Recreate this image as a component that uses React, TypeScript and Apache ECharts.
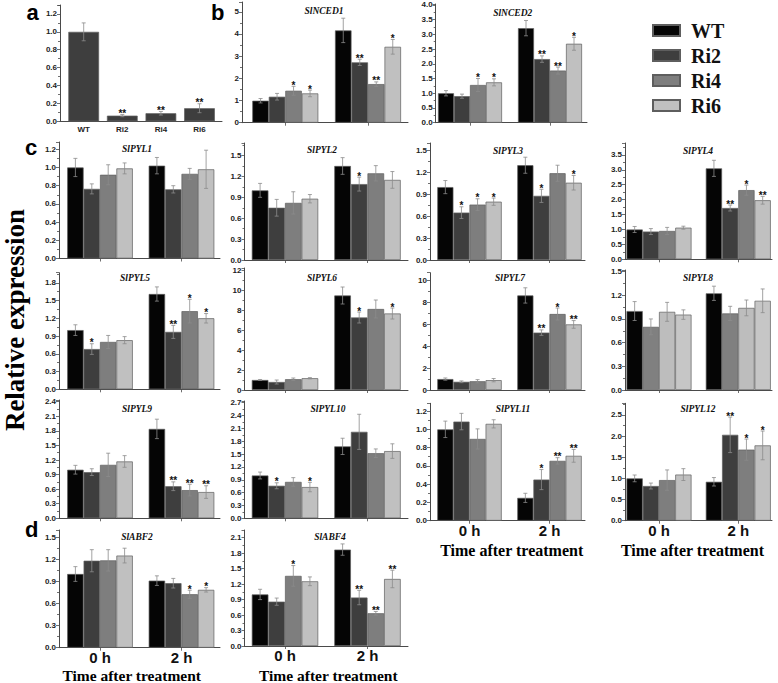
import React, { useEffect, useRef } from "react";
import * as echarts from "echarts";

// ---------------- data ----------------
const groupLabels = ["0 h", "2 h"];
const lineNames = ["WT", "Ri2", "Ri4", "Ri6"];

// panel a
const aCategories = ["WT", "Ri2", "Ri4", "Ri6"];
const aMean = [1.0, 0.063, 0.09, 0.146];
const aErr = [0.1, 0.012, 0.02, 0.05];
const aSig = ["", "**", "**", "**"];

// panel b
const nced1Mean = [[0.99, 1.17, 1.44, 1.32], [4.16, 2.72, 1.74, 3.42]];
const nced1Err = [[0.1, 0.15, 0.2, 0.15], [0.55, 0.14, 0.1, 0.33]];
const nced1Sig = [["", "", "*", "*"], ["", "**", "**", "*"]];

const nced2Mean = [[1.0, 0.9, 1.28, 1.37], [3.21, 2.16, 1.77, 2.68]];
const nced2Err = [[0.09, 0.07, 0.22, 0.12], [0.26, 0.11, 0.12, 0.22]];
const nced2Sig = [["", "", "*", "*"], ["", "**", "**", "*"]];

// panel c
const pyl1Mean = [[1.0, 0.765, 0.92, 0.99], [1.02, 0.76, 0.93, 0.98]];
const pyl1Err = [[0.1, 0.055, 0.11, 0.06], [0.09, 0.04, 0.06, 0.21]];
const pyl1Sig = [["", "", "", ""], ["", "", "", ""]];

const pyl2Mean = [[1.0, 0.75, 0.82, 0.88], [1.35, 1.09, 1.245, 1.15]];
const pyl2Err = [[0.1, 0.12, 0.16, 0.06], [0.12, 0.1, 0.11, 0.12]];
const pyl2Sig = [["", "", "", ""], ["", "*", "", ""]];

const pyl3Mean = [[1.0, 0.65, 0.76, 0.8], [1.3, 0.88, 1.19, 1.06]];
const pyl3Err = [[0.09, 0.08, 0.08, 0.05], [0.11, 0.09, 0.11, 0.1]];
const pyl3Sig = [["", "*", "*", "*"], ["", "*", "", "*"]];

const pyl4Mean = [[1.0, 0.93, 0.95, 1.06], [3.05, 1.72, 2.32, 1.98]];
const pyl4Err = [[0.1, 0.1, 0.12, 0.05], [0.27, 0.1, 0.17, 0.13]];
const pyl4Sig = [["", "", "", ""], ["", "**", "*", "**"]];

const pyl5Mean = [[1.0, 0.68, 0.8, 0.83], [1.61, 0.97, 1.32, 1.2]];
const pyl5Err = [[0.09, 0.09, 0.11, 0.06], [0.12, 0.11, 0.2, 0.08]];
const pyl5Sig = [["", "*", "", ""], ["", "**", "*", "*"]];

const pyl6Mean = [[1.0, 0.8, 1.08, 1.18], [9.45, 7.25, 8.1, 7.65]];
const pyl6Err = [[0.05, 0.2, 0.12, 0.06], [0.85, 0.55, 0.9, 0.55]];
const pyl6Sig = [["", "", "", ""], ["", "*", "", "*"]];

const pyl7Mean = [[1.0, 0.75, 0.8, 0.9], [8.65, 5.25, 6.95, 6.0]];
const pyl7Err = [[0.1, 0.08, 0.15, 0.15], [0.7, 0.25, 0.55, 0.35]];
const pyl7Sig = [["", "", "", ""], ["", "**", "*", "**"]];

const pyl8Mean = [[1.0, 0.8, 0.99, 0.955], [1.225, 0.97, 1.04, 1.13]];
const pyl8Err = [[0.12, 0.1, 0.12, 0.06], [0.09, 0.09, 0.1, 0.15]];
const pyl8Sig = [["", "", "", ""], ["", "", "", ""]];

const pyl9Mean = [[1.0, 0.95, 1.1, 1.17], [1.84, 0.66, 0.58, 0.54]];
const pyl9Err = [[0.09, 0.07, 0.24, 0.12], [0.2, 0.09, 0.12, 0.13]];
const pyl9Sig = [["", "", "", ""], ["", "**", "**", "**"]];

const pyl10Mean = [[1.0, 0.76, 0.85, 0.73], [1.68, 2.02, 1.52, 1.57]];
const pyl10Err = [[0.08, 0.07, 0.1, 0.11], [0.19, 0.41, 0.1, 0.17]];
const pyl10Sig = [["", "*", "", "*"], ["", "", "", ""]];

const pyl11Mean = [[1.0, 1.085, 0.895, 1.06], [0.25, 0.45, 0.655, 0.71]];
const pyl11Err = [[0.09, 0.09, 0.11, 0.045], [0.05, 0.11, 0.035, 0.07]];
const pyl11Sig = [["", "", "", ""], ["", "*", "**", "**"]];

const pyl12Mean = [[1.0, 0.82, 0.96, 1.09], [0.92, 2.03, 1.68, 1.78]];
const pyl12Err = [[0.08, 0.07, 0.24, 0.14], [0.1, 0.42, 0.25, 0.34]];
const pyl12Sig = [["", "", "", ""], ["", "**", "*", "*"]];

// panel d
const abf2Mean = [[1.0, 1.18, 1.185, 1.25], [0.91, 0.875, 0.725, 0.785]];
const abf2Err = [[0.1, 0.15, 0.145, 0.1], [0.065, 0.065, 0.055, 0.03]];
const abf2Sig = [["", "", "", ""], ["", "", "*", "*"]];

const abf4Mean = [[1.0, 0.86, 1.36, 1.255], [1.87, 0.94, 0.635, 1.3]];
const abf4Err = [[0.1, 0.07, 0.2, 0.085], [0.11, 0.14, 0.035, 0.17]];
const abf4Sig = [["", "", "*", ""], ["", "**", "**", "**"]];

// ---------------- styles / layout ----------------
const COLORS = ["#050505", "#3e3e3e", "#7e7e7e", "#c0c0c0"];
const PYL8_COLORS = ["#050505", "#808080", "#bdbdbd", "#c6c6c6"];
const A_COLOR = "#3e3e3e";
const BORDER = "#5e5e5e";
const AXIS_COLOR = "#4a4a4a";
const ERR_COLOR = "#8c8c8c";
const SANS = "Liberation Sans";
const SERIF = "Liberation Serif";

const COL: Record<string, { axisX: number; c0: number; c1: number; xEnd: number; barW: number }> = {
  c1: { axisX: 59, c0: 100, c1: 181.5, xEnd: 220, barW: 16.4 },
  c2: { axisX: 244.5, c0: 285, c1: 367.5, xEnd: 408, barW: 16.6 },
  c2n: { axisX: 242, c0: 285.3, c1: 368, xEnd: 408, barW: 16.5 },
  c3: { axisX: 430, c0: 469.5, c1: 549.5, xEnd: 585, barW: 16.1 },
  c3n: { axisX: 435.7, c0: 470, c1: 550, xEnd: 587, barW: 16 },
  c4: { axisX: 625, c0: 659, c1: 738.3, xEnd: 772, barW: 16.25 },
};

type Panel = {
  title: string; mean: number[][]; err: number[][]; sig: string[][];
  col: string; top: number; bottom: number; max: number; interval: number;
  tx: number; ty: number; xLabels?: boolean; colors?: string[];
};

const PANELS: Panel[] = [
  { title: "SlNCED1", mean: nced1Mean, err: nced1Err, sig: nced1Sig, col: "c2n", top: 2, bottom: 122.7, max: 5.44, interval: 1, tx: 324, ty: 11 },
  { title: "SlNCED2", mean: nced2Mean, err: nced2Err, sig: nced2Sig, col: "c3n", top: 4, bottom: 122.7, max: 4.03, interval: 0.5, tx: 512.7, ty: 12.7 },
  { title: "SlPYL1", mean: pyl1Mean, err: pyl1Err, sig: pyl1Sig, col: "c1", top: 142, bottom: 258.5, max: 1.28, interval: 0.2, tx: 137, ty: 148.5 },
  { title: "SlPYL2", mean: pyl2Mean, err: pyl2Err, sig: pyl2Sig, col: "c2", top: 143, bottom: 260, max: 1.68, interval: 0.3, tx: 322, ty: 150 },
  { title: "SlPYL3", mean: pyl3Mean, err: pyl3Err, sig: pyl3Sig, col: "c3", top: 143, bottom: 260, max: 1.605, interval: 0.3, tx: 508, ty: 150.5 },
  { title: "SlPYL4", mean: pyl4Mean, err: pyl4Err, sig: pyl4Sig, col: "c4", top: 143, bottom: 259.3, max: 3.9, interval: 0.5, tx: 698, ty: 150.5 },
  { title: "SlPYL5", mean: pyl5Mean, err: pyl5Err, sig: pyl5Sig, col: "c1", top: 272.7, bottom: 389.3, max: 1.97, interval: 0.3, tx: 135, ty: 278 },
  { title: "SlPYL6", mean: pyl6Mean, err: pyl6Err, sig: pyl6Sig, col: "c2", top: 268, bottom: 390, max: 12.2, interval: 2, tx: 322, ty: 278 },
  { title: "SlPYL7", mean: pyl7Mean, err: pyl7Err, sig: pyl7Sig, col: "c3", top: 272.7, bottom: 390, max: 10.73, interval: 2, tx: 510, ty: 278 },
  { title: "SlPYL8", mean: pyl8Mean, err: pyl8Err, sig: pyl8Sig, col: "c4", top: 270, bottom: 390, max: 1.52, interval: 0.3, tx: 698, ty: 278, colors: PYL8_COLORS },
  { title: "SlPYL9", mean: pyl9Mean, err: pyl9Err, sig: pyl9Sig, col: "c1", top: 400, bottom: 518.3, max: 2.435, interval: 0.3, tx: 137, ty: 409 },
  { title: "SlPYL10", mean: pyl10Mean, err: pyl10Err, sig: pyl10Sig, col: "c2", top: 401, bottom: 518.3, max: 2.74, interval: 0.3, tx: 328, ty: 409 },
  { title: "SlPYL11", mean: pyl11Mean, err: pyl11Err, sig: pyl11Sig, col: "c3", top: 403.3, bottom: 520.7, max: 1.285, interval: 0.2, tx: 513, ty: 409, xLabels: true },
  { title: "SlPYL12", mean: pyl12Mean, err: pyl12Err, sig: pyl12Sig, col: "c4", top: 403.3, bottom: 520.7, max: 2.775, interval: 0.5, tx: 698, ty: 409, xLabels: true },
  { title: "SlABF2", mean: abf2Mean, err: abf2Err, sig: abf2Sig, col: "c1", top: 530, bottom: 647.7, max: 1.597, interval: 0.3, tx: 137, ty: 537, xLabels: true },
  { title: "SlABF4", mean: abf4Mean, err: abf4Err, sig: abf4Sig, col: "c2", top: 530, bottom: 646, max: 2.25, interval: 0.3, tx: 330, ty: 537, xLabels: true },
];

const A_LAYOUT = { axisX: 60, c0: 83.7, c1: 122.3, xEnd: 222, barW: 30.7, top: 5, bottom: 121.3, max: 1.3, interval: 0.2 };

function tickFormatter(interval: number) {
  const d = interval >= 1 ? 0 : 1;
  return (v: number) => {
    const r = v / interval;
    return Math.abs(r - Math.round(r)) < 1e-6 ? v.toFixed(d) : "";
  };
}

const lineStyle = { color: AXIS_COLOR, width: 1 };

function yAxisOf(k: number, max: number, interval: number) {
  return {
    type: "value", gridIndex: k, min: 0, max, interval,
    axisLine: { show: true, onZero: false, lineStyle },
    axisTick: { show: true, length: 3, lineStyle: { color: AXIS_COLOR, width: 0.8 } },
    minorTick: { show: true, splitNumber: 2, length: 2, lineStyle: { color: AXIS_COLOR, width: 0.8 } },
    splitLine: { show: false },
    minorSplitLine: { show: false },
    axisLabel: { formatter: tickFormatter(interval), fontSize: 8, fontWeight: "bold", fontFamily: SANS, color: "#222", margin: 3 },
  };
}

function errorSeries(k: number, items: number[][], sigs: string[], barW: number) {
  return {
    type: "custom", xAxisIndex: k, yAxisIndex: k, z: 5, silent: true,
    encode: { x: 0, y: 1 },
    data: items,
    renderItem: (params: any, api: any) => {
      const x = api.value(0), mean = api.value(2), slot = api.value(3), err = api.value(4), n = api.value(5);
      const top = api.coord([x, mean + err]);
      const bot = api.coord([x, Math.max(0, mean - err)]);
      const cx = top[0] + (slot - (n - 1) / 2) * barW;
      const ls = { stroke: ERR_COLOR, lineWidth: 0.8 };
      const ch: any[] = [
        { type: "line", shape: { x1: cx, y1: top[1], x2: cx, y2: bot[1] }, style: ls },
        { type: "line", shape: { x1: cx - 2, y1: top[1], x2: cx + 2, y2: top[1] }, style: ls },
        { type: "line", shape: { x1: cx - 2, y1: bot[1], x2: cx + 2, y2: bot[1] }, style: ls },
      ];
      const s = sigs[params.dataIndex];
      if (s) {
        ch.push({
          type: "text",
          style: {
            text: s, x: cx, y: top[1] + 4,
            align: "center", textAlign: "center", verticalAlign: "bottom", textVerticalAlign: "bottom",
            fontSize: 10, fontWeight: "bold", fontFamily: SANS, fill: "#111",
          },
        });
      }
      return { type: "group", children: ch };
    },
  };
}

function txt(text: string, x: number, y: number, size: number, opts: any = {}) {
  return {
    type: "text", x, y, silent: true, rotation: opts.rotation || 0,
    style: {
      text, fontSize: size, fontFamily: opts.family || SANS, fontWeight: opts.weight || "bold",
      fontStyle: opts.style || "normal", fill: opts.fill || "#000",
      align: opts.align || "center", textAlign: opts.align || "center",
      verticalAlign: "middle", textVerticalAlign: "middle",
    },
  };
}

function buildOption() {
  const grid: any[] = [];
  const xAxis: any[] = [];
  const yAxis: any[] = [];
  const series: any[] = [];
  const elements: any[] = [];

  // panel a
  {
    const L = A_LAYOUT;
    const k = 0;
    const unit = L.c1 - L.c0;
    grid.push({ left: L.axisX, top: L.top, width: L.xEnd - L.axisX, height: L.bottom - L.top });
    xAxis.push({
      type: "value", gridIndex: k, min: (L.axisX - L.c0) / unit, max: (L.xEnd - L.c0) / unit,
      axisLine: { show: true, onZero: false, lineStyle },
      axisTick: { show: false },
      splitLine: { show: false },
      axisLabel: {
        show: true, customValues: aCategories.map((_, i) => i),
        formatter: (v: number) => aCategories[Math.round(v)] ?? "",
        fontSize: 8, fontWeight: "bold", fontFamily: SANS, color: "#222", margin: 4,
      },
    });
    yAxis.push(yAxisOf(k, L.max, L.interval));
    series.push({
      type: "bar", name: "a", xAxisIndex: k, yAxisIndex: k, barWidth: L.barW, silent: true,
      data: aMean.map((m, i) => [i, m]),
      itemStyle: { color: A_COLOR, borderColor: BORDER, borderWidth: 0.7 },
    });
    series.push(errorSeries(k, aMean.map((m, i) => [i, m + aErr[i], m, 0, aErr[i], 1]), aSig, L.barW));
  }

  PANELS.forEach((p, idx) => {
    const k = idx + 1;
    const L = COL[p.col];
    const unit = L.c1 - L.c0;
    grid.push({ left: L.axisX, top: p.top, width: L.xEnd - L.axisX, height: p.bottom - p.top });
    xAxis.push({
      type: "value", gridIndex: k, min: (L.axisX - L.c0) / unit, max: (L.xEnd - L.c0) / unit,
      axisLine: { show: true, onZero: false, lineStyle },
      axisTick: { show: true, customValues: groupLabels.map((_, i) => i), length: 3, lineStyle: { color: AXIS_COLOR, width: 0.8 } },
      splitLine: { show: false },
      axisLabel: p.xLabels
        ? {
            show: true, customValues: groupLabels.map((_, i) => i),
            formatter: (v: number) => groupLabels[Math.round(v)] ?? "",
            fontSize: 15, fontWeight: "bold", fontFamily: SANS, color: "#111", margin: 2,
          }
        : { show: false },
    });
    yAxis.push(yAxisOf(k, p.max, p.interval));
    const colors = p.colors || COLORS;
    lineNames.forEach((name, i) => {
      series.push({
        type: "bar", name, xAxisIndex: k, yAxisIndex: k, barWidth: L.barW, barGap: "0%", silent: true,
        data: p.mean.map((g, gi) => [gi, g[i]]),
        itemStyle: { color: colors[i], borderColor: BORDER, borderWidth: 0.7 },
      });
    });
    const items: number[][] = [];
    const sigs: string[] = [];
    p.mean.forEach((g, gi) => {
      g.forEach((m, i) => {
        items.push([gi, m + p.err[gi][i], m, i, p.err[gi][i], lineNames.length]);
        sigs.push(p.sig[gi][i]);
      });
    });
    series.push(errorSeries(k, items, sigs, L.barW));
    elements.push(txt(p.title, p.tx, p.ty, 9.5, { family: SERIF, style: "italic", fill: "#111" }));
  });

  // panel letters
  elements.push(txt("a", 26.5, 12.3, 22, { align: "left" }));
  elements.push(txt("b", 211, 12.3, 22, { align: "left" }));
  elements.push(txt("c", 25, 147.5, 22, { align: "left" }));
  elements.push(txt("d", 25, 529.5, 22, { align: "left" }));

  // axis titles
  elements.push(txt("Relative expression", 15, 320, 27, { family: SERIF, rotation: Math.PI / 2 }));
  elements.push(txt("Time after treatment", 131.7, 675, 15.5, { family: SERIF }));
  elements.push(txt("Time after treatment", 328.3, 675, 15.5, { family: SERIF }));
  elements.push(txt("Time after treatment", 511.7, 550.5, 16, { family: SERIF }));
  elements.push(txt("Time after treatment", 692.5, 550.5, 16, { family: SERIF }));

  return {
    animation: false,
    backgroundColor: "#fff",
    textStyle: { fontFamily: SANS },
    legend: {
      data: lineNames, orient: "vertical", left: 652, top: 20.5, padding: 0,
      itemWidth: 27, itemHeight: 11, itemGap: 5, icon: "rect", selectedMode: false,
      textStyle: { fontSize: 20, fontWeight: "bold", fontFamily: SERIF, color: "#111", padding: [0, 0, 0, 6] },
    },
    grid, xAxis, yAxis, series,
    graphic: { elements },
  };
}

export default function App() {
  const ref = useRef<HTMLDivElement>(null);
  useEffect(() => {
    if (!ref.current) return;
    const chart = echarts.init(ref.current, null, { renderer: "svg" });
    chart.setOption(buildOption() as any);
    return () => chart.dispose();
  }, []);
  return (
    <div
      ref={ref}
      style={{ position: "absolute", left: 0, top: 0, width: 778, height: 683, background: "#fff" }}
    />
  );
}
